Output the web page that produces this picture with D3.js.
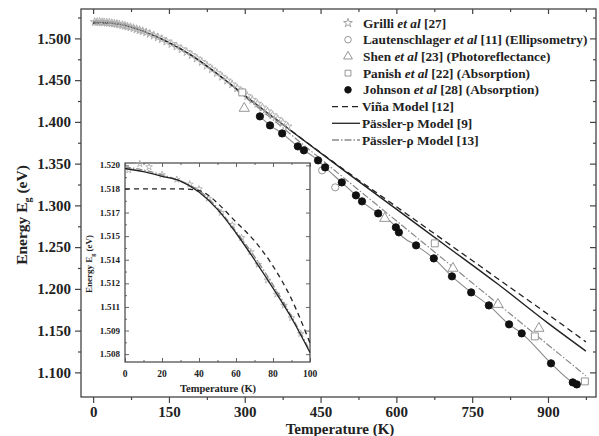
<!DOCTYPE html>
<html>
<head>
<meta charset="utf-8">
<script src="https://cdn.jsdelivr.net/npm/d3@7"></script>
<style>
  body { margin: 0; background: #fff; }
  svg { display: block; }
  text { font-family: "Liberation Serif", "Times New Roman", serif; font-weight: bold; fill: #222; }
</style>
</head>
<body>
<svg id="chart" width="599" height="436"></svg>
<script>
// ---- data ----
var xTicks = [0, 150, 300, 450, 600, 750, 900];
var yTicks = [1.100, 1.150, 1.200, 1.250, 1.300, 1.350, 1.400, 1.450, 1.500];

// Grilli et al (stars)
var grilliT = [3, 8, 13, 18, 22, 27, 32, 37, 42, 47, 52, 58, 63, 68, 74, 80, 86, 92, 98, 105, 112, 120, 128, 136, 145, 155, 165, 175, 185, 195, 205, 215, 225, 235, 245, 255, 265, 275, 285, 295, 305, 315, 325, 335, 345, 355, 365, 375, 385];
var grilliE = [1.5196, 1.5195, 1.5198, 1.5193, 1.5192, 1.5189, 1.5186, 1.5182, 1.5178, 1.5173, 1.5167, 1.5159, 1.5151, 1.5143, 1.5134, 1.5122, 1.5110, 1.5098, 1.5087, 1.5072, 1.5055, 1.5034, 1.5013, 1.4991, 1.4963, 1.4934, 1.4903, 1.4871, 1.4837, 1.4800, 1.4760, 1.4718, 1.4674, 1.4630, 1.4585, 1.4541, 1.4495, 1.4450, 1.4403, 1.4356, 1.4309, 1.4264, 1.4218, 1.4172, 1.4126, 1.4080, 1.4035, 1.3990, 1.3945];
// Lautenschlager et al (open circles)
var lautT = [453, 479];
var lautE = [1.3419, 1.3216];
// Shen et al (triangles)
var shenT = [299, 577, 712, 801, 882];
var shenE = [1.4162, 1.2844, 1.2246, 1.1814, 1.1527];
// Panish et al (squares)
var panishT = [295, 676, 874, 973];
var panishE = [1.4353, 1.2545, 1.1431, 1.0892];
// Johnson et al (filled circles)
var johnsonT = [330, 350, 374, 405, 417, 445, 459, 492, 520, 532, 564, 599, 605, 639, 674, 710, 748, 783, 823, 848, 906, 949, 957];
var johnsonE = [1.4066, 1.3958, 1.3862, 1.3707, 1.3659, 1.3539, 1.3455, 1.3275, 1.3120, 1.3048, 1.2904, 1.2737, 1.2677, 1.2521, 1.2365, 1.2150, 1.1958, 1.1802, 1.1575, 1.1467, 1.1108, 1.0880, 1.0856];

// model curves
var vinaT = [0, 25, 50, 75, 100, 150, 200, 250, 300, 350, 400, 450, 500, 600, 700, 800, 900, 975];
var vinaE = [1.5180, 1.5180, 1.5172, 1.5135, 1.5083, 1.4950, 1.4775, 1.4555, 1.4315, 1.4085, 1.3857, 1.3632, 1.3412, 1.2985, 1.2555, 1.2125, 1.1695, 1.1365];
var passPT = [0, 25, 50, 75, 100, 150, 200, 250, 300, 350, 400, 500, 600, 700, 800, 900, 975];
var passPE = [1.5195, 1.5190, 1.5172, 1.5135, 1.5083, 1.4950, 1.4775, 1.4555, 1.4315, 1.4085, 1.3855, 1.3402, 1.2955, 1.2508, 1.2061, 1.1590, 1.1255];
var passRT = [0, 25, 50, 75, 100, 150, 200, 250, 300, 350, 400, 500, 650, 800, 975];
var passRE = [1.5195, 1.5190, 1.5172, 1.5135, 1.5083, 1.4950, 1.4775, 1.4550, 1.4300, 1.4055, 1.3805, 1.3310, 1.2568, 1.1825, 1.0959];

// inset
var insetXTicks = [0, 20, 40, 60, 80, 100];
var insetYTicks = [1.5075, 1.509, 1.5105, 1.512, 1.5135, 1.515, 1.5165, 1.518, 1.5195];
var insetYLabels = ["1.508", "1.509", "1.511", "1.512", "1.514", "1.515", "1.517", "1.518", "1.520"];
var inPassT = [0, 10, 20, 30, 40, 50, 60, 70, 80, 90, 100];
var inPassE = [1.5193, 1.5191, 1.5188, 1.5185, 1.5178, 1.5167, 1.5152, 1.5135, 1.5117, 1.5098, 1.5076];
var inRhoE = [1.5194, 1.5192, 1.5189, 1.5185, 1.5179, 1.5168, 1.5153, 1.5137, 1.5119, 1.5099, 1.5077];
var inVinaT = [0, 30, 40, 45, 50, 60, 70, 80, 90, 100];
var inVinaE = [1.5180, 1.5180, 1.5179, 1.5176, 1.5171, 1.5159, 1.5147, 1.5131, 1.5110, 1.5082];
var inStarT = [2, 8, 13, 20, 28, 35, 40, 45, 52, 58, 63, 68, 72, 77, 82, 86, 90, 95];
var inStarE = [1.5192, 1.5196, 1.5194, 1.5189, 1.5186, 1.5183, 1.5180, 1.5174, 1.5165, 1.5157, 1.5149, 1.5140, 1.5132, 1.5122, 1.5113, 1.5106, 1.5098, 1.5088];

var legendLabels = [
  ["Grilli ", "et al", " [27]"],
  ["Lautenschlager ", "et al", " [11] (Ellipsometry)"],
  ["Shen ", "et al", " [23] (Photoreflectance)"],
  ["Panish ", "et al", " [22] (Absorption)"],
  ["Johnson ", "et al", " [28] (Absorption)"],
  ["Viña Model [12]"],
  ["Pässler-p Model [9]"],
  ["Pässler-ρ  Model [13]"]
];

var grey = "#8a8a8a";
var svg = d3.select("#chart");

var x = d3.scaleLinear().domain([-24, 995]).range([81, 596]);
var y = d3.scaleLinear().domain([1.0705, 1.5352]).range([397, 9]);

function zip(a, b) { return a.map((d, i) => [d, b[i]]); }

// frame
svg.append("rect").attr("x", 81).attr("y", 9).attr("width", 515).attr("height", 388)
  .attr("fill", "none").attr("stroke", "#444").attr("stroke-width", 1.3);

// axes
function styleAxis(g) {
  g.select(".domain").remove();
  g.selectAll("line").attr("stroke", "#444").attr("stroke-width", 1.2);
}
var xMinor = xTicks.map(d => d + 75);
var yMinor = yTicks.map(d => d + 0.025);

svg.append("g").attr("transform", "translate(0,397)")
  .call(d3.axisBottom(x).tickValues(xTicks).tickSize(6).tickPadding(3))
  .call(styleAxis)
  .selectAll("text").style("font-size", "15px").attr("fill", "#222");
svg.append("g").attr("transform", "translate(0,397)")
  .call(d3.axisBottom(x).tickValues(xMinor).tickSize(3).tickFormat(""))
  .call(styleAxis);
svg.append("g").attr("transform", "translate(0,9)")
  .call(d3.axisBottom(x).tickValues(xTicks).tickSize(5).tickFormat(""))
  .call(styleAxis);
svg.append("g").attr("transform", "translate(0,9)")
  .call(d3.axisBottom(x).tickValues(xMinor).tickSize(3).tickFormat(""))
  .call(styleAxis);

svg.append("g").attr("transform", "translate(81,0)")
  .call(d3.axisLeft(y).tickValues(yTicks).tickSize(6).tickPadding(4).tickFormat(d3.format(".3f")))
  .call(styleAxis)
  .selectAll("text").style("font-size", "15px").attr("fill", "#222");
svg.append("g").attr("transform", "translate(81,0)")
  .call(d3.axisLeft(y).tickValues(yMinor).tickSize(3).tickFormat(""))
  .call(styleAxis);
svg.append("g").attr("transform", "translate(596,0)")
  .call(d3.axisLeft(y).tickValues(yTicks).tickSize(6).tickFormat(""))
  .call(styleAxis);
svg.append("g").attr("transform", "translate(596,0)")
  .call(d3.axisLeft(y).tickValues(yMinor).tickSize(3).tickFormat(""))
  .call(styleAxis);

// axis titles
svg.append("text").attr("x", 340).attr("y", 434).attr("text-anchor", "middle")
  .style("font-size", "15px").text("Temperature (K)");
var yt = svg.append("text").attr("transform", "translate(27,215) rotate(-90)")
  .attr("text-anchor", "middle").style("font-size", "15.5px");
yt.append("tspan").text("Energy E");
yt.append("tspan").attr("dy", 4).style("font-size", "10px").text("g");
yt.append("tspan").attr("dy", -4).text(" (eV)");

// curves
var line = d3.line().x(d => x(d[0])).y(d => y(d[1])).curve(d3.curveMonotoneX);
svg.append("path").datum(zip(johnsonT, johnsonE)).attr("d", line)
  .attr("fill", "none").attr("stroke", grey).attr("stroke-width", 1.1);
svg.append("path").datum(zip(passRT, passRE)).attr("d", line)
  .attr("fill", "none").attr("stroke", grey).attr("stroke-width", 1.2).attr("stroke-dasharray", "7,2,1.5,2");
svg.append("path").datum(zip(vinaT, vinaE)).attr("d", line)
  .attr("fill", "none").attr("stroke", "#222").attr("stroke-width", 1.3).attr("stroke-dasharray", "6,4");
svg.append("path").datum(zip(passPT, passPE)).attr("d", line)
  .attr("fill", "none").attr("stroke", "#222").attr("stroke-width", 1.4);

// markers
var sym = d3.symbol();
function markers(T, E, type, size, fill, stroke) {
  svg.append("g").selectAll("path").data(zip(T, E)).join("path")
    .attr("transform", d => "translate(" + x(d[0]) + "," + y(d[1]) + ")")
    .attr("d", sym.type(type).size(size)())
    .attr("fill", fill).attr("stroke", stroke).attr("stroke-width", 0.9);
}
markers(grilliT, grilliE, d3.symbolStar, 22, "none", "#aaa");
markers(lautT, lautE, d3.symbolCircle, 40, "#fff", grey);
markers(shenT, shenE, d3.symbolTriangle, 45, "#fff", grey);
markers(panishT, panishE, d3.symbolSquare, 48, "#fff", grey);
markers(johnsonT, johnsonE, d3.symbolCircle, 42, "#111", "#111");

// legend
var lg = svg.append("g");
var lgY = d3.scaleLinear().domain([0, 7]).range([23, 140]);
var lgTypes = [d3.symbolStar, d3.symbolCircle, d3.symbolTriangle, d3.symbolSquare, d3.symbolCircle];
var lgFill = ["none", "#fff", "#fff", "#fff", "#111"];
var lgStroke = ["#999", grey, grey, grey, "#111"];
lgTypes.forEach(function(t, i) {
  lg.append("path").attr("transform", "translate(348," + lgY(i) + ")")
    .attr("d", d3.symbol().type(t).size(i == 0 ? 24 : 34)())
    .attr("fill", lgFill[i]).attr("stroke", lgStroke[i]).attr("stroke-width", 0.9);
});
var lgDash = ["6,4", null, "7,2,1.5,2"];
var lgCol = ["#222", "#222", grey];
lgDash.forEach(function(ds, i) {
  lg.append("line").attr("x1", 332).attr("x2", 360).attr("y1", lgY(i + 5)).attr("y2", lgY(i + 5))
    .attr("stroke", lgCol[i]).attr("stroke-width", 1.3).attr("stroke-dasharray", ds);
});
legendLabels.forEach(function(parts, i) {
  var t = lg.append("text").attr("x", i < 5 ? 363 : 362).attr("y", lgY(i) + 4.5).style("font-size", "13.3px");
  parts.forEach(function(p) {
    var s = t.append("tspan").text(p);
    if (p == "et al") s.style("font-style", "italic");
  });
});

// ---- inset ----
var xi = d3.scaleLinear().domain([0, 100]).range([125, 310]);
var yi = d3.scaleLinear().domain([1.5070, 1.51965]).range([362, 163]);
var inset = svg.append("g");
inset.append("rect").attr("x", 125).attr("y", 163).attr("width", 185).attr("height", 199)
  .attr("fill", "#fff").attr("stroke", "#444").attr("stroke-width", 1.2);

var ixMinor = [10, 30, 50, 70, 90];
var iyMinor = insetYTicks.slice(0, -1).map(d => d + 0.00075);
function styleInset(g) {
  g.select(".domain").remove();
  g.selectAll("line").attr("stroke", "#555").attr("stroke-width", 0.9);
}
inset.append("g").attr("transform", "translate(0,362)")
  .call(d3.axisTop(xi).tickValues(insetXTicks).tickSize(4).tickFormat(""))
  .call(styleInset);
inset.append("g").attr("transform", "translate(0,362)")
  .call(d3.axisTop(xi).tickValues(ixMinor).tickSize(2).tickFormat(""))
  .call(styleInset);
inset.append("g").attr("transform", "translate(0,163)")
  .call(d3.axisBottom(xi).tickValues(insetXTicks).tickSize(4).tickFormat(""))
  .call(styleInset);
inset.append("g").attr("transform", "translate(0,163)")
  .call(d3.axisBottom(xi).tickValues(ixMinor).tickSize(2).tickFormat(""))
  .call(styleInset);
inset.append("g").attr("transform", "translate(125,0)")
  .call(d3.axisRight(yi).tickValues(insetYTicks).tickSize(4).tickFormat(""))
  .call(styleInset);
inset.append("g").attr("transform", "translate(125,0)")
  .call(d3.axisRight(yi).tickValues(iyMinor).tickSize(2).tickFormat(""))
  .call(styleInset);
inset.append("g").attr("transform", "translate(310,0)")
  .call(d3.axisLeft(yi).tickValues(insetYTicks).tickSize(4).tickFormat(""))
  .call(styleInset);

inset.selectAll(".ixl").data(insetXTicks).join("text").attr("class", "ixl")
  .attr("x", d => xi(d)).attr("y", 377).attr("text-anchor", "middle")
  .style("font-size", "9.5px").text(d => d);
inset.selectAll(".iyl").data(insetYTicks).join("text").attr("class", "iyl")
  .attr("x", 120).attr("y", d => yi(d) + 3).attr("text-anchor", "end")
  .style("font-size", "9px").text((d, i) => insetYLabels[i]);
inset.append("text").attr("x", 218).attr("y", 392).attr("text-anchor", "middle")
  .style("font-size", "10.5px").text("Temperature (K)");
var iyt = inset.append("text").attr("transform", "translate(92,264) rotate(-90)")
  .attr("text-anchor", "middle").style("font-size", "9px");
iyt.append("tspan").text("Energy E");
iyt.append("tspan").attr("dy", 2.5).style("font-size", "6px").text("g");
iyt.append("tspan").attr("dy", -2.5).text(" (eV)");

var iline = d3.line().x(d => xi(d[0])).y(d => yi(d[1])).curve(d3.curveMonotoneX);
inset.append("g").selectAll("path").data(zip(inStarT, inStarE)).join("path")
  .attr("transform", d => "translate(" + xi(d[0]) + "," + yi(d[1]) + ")")
  .attr("d", d3.symbol().type(d3.symbolStar).size(14)())
  .attr("fill", "none").attr("stroke", "#aaa").attr("stroke-width", 0.8);
inset.append("path").datum(zip(inPassT, inRhoE)).attr("d", iline)
  .attr("fill", "none").attr("stroke", grey).attr("stroke-width", 1.3).attr("stroke-dasharray", "6,2,1.5,2");
inset.append("path").datum(zip(inPassT, inPassE)).attr("d", iline)
  .attr("fill", "none").attr("stroke", "#222").attr("stroke-width", 1.3);
inset.append("path").datum(zip(inVinaT, inVinaE)).attr("d", iline)
  .attr("fill", "none").attr("stroke", "#222").attr("stroke-width", 1.3).attr("stroke-dasharray", "5,4");
</script>
</body>
</html>
